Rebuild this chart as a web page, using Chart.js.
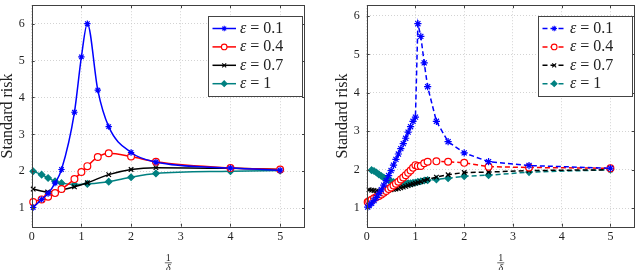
<!DOCTYPE html>
<html>
<head>
<meta charset="utf-8">
<script src="https://cdn.jsdelivr.net/npm/chart.js@4"></script>
<style>
  html, body { margin: 0; padding: 0; background: #fff; }
  #wrap { display: flex; width: 640px; height: 270px; }
  canvas { display: block; }
</style>
</head>
<body>
<div id="wrap">
  <canvas id="left" width="320" height="270"></canvas>
  <canvas id="right" width="320" height="270"></canvas>
</div>
<script>
// tick labels
const xTicks = [0, 1, 2, 3, 4, 5];
const yTicks = [1, 2, 3, 4, 5, 6];
const epsLabels = ['0.1', '0.4', '0.7', '1'];

// left panel (solid, smooth)
const leftX = [0.03, 0.2, 0.33, 0.47, 0.6, 0.86, 1.0, 1.12, 1.33, 1.55, 2, 2.5, 4, 5];
const leftBlue = [1.02, 1.24, 1.40, 1.68, 2.05, 3.6, 5.1, 6.0, 4.2, 3.21, 2.51, 2.25, 2.09, 2.03];
const leftRed = [1.17, 1.24, 1.31, 1.41, 1.52, 1.79, 1.98, 2.14, 2.39, 2.49, 2.40, 2.26, 2.09, 2.05];
const leftBlackX = [0.03, 0.32, 0.61, 0.86, 1.12, 1.55, 2.0, 2.5, 4, 5];
const leftBlack = [1.52, 1.44, 1.50, 1.58, 1.69, 1.91, 2.05, 2.10, 2.08, 2.05];
const leftTealX = [0.03, 0.2, 0.33, 0.47, 0.6, 0.86, 1.12, 1.55, 2.0, 2.5, 4, 5];
const leftTeal = [2.0, 1.91, 1.82, 1.73, 1.68, 1.64, 1.66, 1.72, 1.84, 1.94, 2.0, 2.02];

// right panel (dashed)
const rightX = [0.02, 0.05, 0.1, 0.15, 0.2, 0.25, 0.3, 0.35, 0.4, 0.45, 0.5, 0.55, 0.6, 0.65, 0.7,
                0.75, 0.8, 0.85, 0.9, 0.95, 1.0, 1.05, 1.11, 1.18, 1.25, 1.43, 1.67, 2, 2.5, 3.33, 5];
const rightBlue = [1.03, 1.07, 1.13, 1.2, 1.28, 1.38, 1.48, 1.6, 1.72, 1.85, 1.98, 2.12, 2.27, 2.41, 2.55,
                   2.68, 2.82, 2.98, 3.12, 3.26, 3.37, 5.8, 5.47, 4.78, 4.16, 3.26, 2.73, 2.44, 2.21, 2.11, 2.04];
const rightRed = [1.16, 1.18, 1.22, 1.26, 1.29, 1.32, 1.36, 1.4, 1.45, 1.5, 1.54, 1.59, 1.64, 1.69, 1.75,
                  1.8, 1.86, 1.92, 1.98, 2.05, 2.12, 2.1, 2.1, 2.17, 2.21, 2.22, 2.21, 2.18, 2.08, 2.06, 2.04];
const rightBlackX = rightX.slice(1);
const rightBlack = [1.48, 1.47, 1.46, 1.45, 1.44, 1.44, 1.45, 1.46, 1.47, 1.48, 1.49, 1.5, 1.51, 1.53,
                    1.55, 1.57, 1.59, 1.61, 1.63, 1.65, 1.67, 1.69, 1.72, 1.75, 1.81, 1.87, 1.93, 1.94, 1.98, 2.0];
const rightTealX = rightX.slice(2);
const rightTeal = [1.99, 1.97, 1.93, 1.88, 1.84, 1.8, 1.76, 1.73, 1.7, 1.68, 1.66, 1.65, 1.64, 1.64,
                   1.64, 1.65, 1.65, 1.66, 1.67, 1.69, 1.7, 1.72, 1.73, 1.75, 1.78, 1.83, 1.86, 1.94, 2.0];

const SERIF = '"Liberation Serif", serif';
const TEAL = '#008080';

function makeSet(label, xs, ys, color, style, fill, radius, dashed) {
    return {
        label: label,
        data: xs.map((x, i) => ({ x: x, y: ys[i] })),
        borderColor: color,
        backgroundColor: color,
        borderWidth: 1.5,
        borderDash: dashed ? [5, 3] : [],
        pointStyle: style,
        pointRadius: radius,
        pointBorderColor: color,
        pointBackgroundColor: fill,
        pointBorderWidth: 1.2,
        cubicInterpolationMode: dashed ? 'default' : 'monotone',
        tension: 0,
        clip: false
    };
}

// frame, inward ticks, legend and the 1/delta label
const decor = {
    id: 'decor',
    afterDraw(chart) {
        const ctx = chart.ctx;
        const a = chart.chartArea;
        const xs = chart.scales.x, ys = chart.scales.y;
        ctx.save();
        ctx.strokeStyle = '#404040';
        ctx.lineWidth = 1;
        ctx.setLineDash([]);
        ctx.beginPath();
        xTicks.forEach(v => {
            const px = Math.round(xs.getPixelForValue(v)) + 0.5;
            ctx.moveTo(px, a.bottom); ctx.lineTo(px, a.bottom - 3);
            ctx.moveTo(px, a.top); ctx.lineTo(px, a.top + 3);
        });
        yTicks.forEach(v => {
            const py = Math.round(ys.getPixelForValue(v)) + 0.5;
            ctx.moveTo(a.left, py); ctx.lineTo(a.left + 3, py);
            ctx.moveTo(a.right, py); ctx.lineTo(a.right - 3, py);
        });
        ctx.stroke();
        ctx.strokeRect(Math.round(a.left) + 0.5, Math.round(a.top) + 0.5,
                       Math.round(a.right - a.left) - 1, Math.round(a.bottom - a.top));

        // legend
        const w = 94, h = 80;
        const x0 = Math.round(a.right - 3 - w), y0 = Math.round(a.top + 11);
        ctx.fillStyle = '#fff';
        ctx.fillRect(x0, y0, w, h);
        ctx.strokeStyle = '#444';
        ctx.strokeRect(x0 + 0.5, y0 + 0.5, w, h);
        chart.data.datasets.forEach((d, i) => {
            const y = y0 + 12.5 + i * 18.4;
            ctx.strokeStyle = d.borderColor;
            ctx.lineWidth = d.borderWidth;
            ctx.setLineDash(d.borderDash);
            ctx.beginPath();
            ctx.moveTo(x0 + 4.5, y); ctx.lineTo(x0 + 28, y);
            ctx.stroke();
            ctx.setLineDash([]);
            ctx.fillStyle = d.pointBackgroundColor;
            ctx.strokeStyle = d.pointBorderColor;
            ctx.lineWidth = 1.1;
            Chart.helpers.drawPoint(ctx, { pointStyle: d.pointStyle, radius: 2.8, rotation: 0, borderWidth: 1.1 }, x0 + 16.2, y);
            ctx.fillStyle = '#222';
            ctx.textBaseline = 'middle';
            ctx.textAlign = 'left';
            ctx.font = 'italic 16px ' + SERIF;
            ctx.fillText('ε', x0 + 32, y);
            const ew = ctx.measureText('ε').width;
            ctx.font = '16px ' + SERIF;
            ctx.fillText(' = ' + epsLabels[i], x0 + 32 + ew, y);
        });

        // x label as a fraction
        const cx = (a.left + a.right) / 2;
        ctx.fillStyle = '#222';
        ctx.textAlign = 'center';
        ctx.textBaseline = 'alphabetic';
        ctx.font = '10px ' + SERIF;
        ctx.fillText('1', cx, 261);
        ctx.strokeStyle = '#222';
        ctx.lineWidth = 0.7;
        ctx.beginPath();
        ctx.moveTo(cx - 3.5, 262.8); ctx.lineTo(cx + 3.5, 262.8);
        ctx.stroke();
        ctx.font = 'italic 10px ' + SERIF;
        ctx.fillText('δ', cx, 270.5);
        ctx.restore();
    }
};

function makeChart(id, datasets, yMin, yMax, yWidth, titlePad, padRight) {
    return new Chart(document.getElementById(id), {
        type: 'line',
        data: { datasets: datasets },
        options: {
            responsive: false,
            animation: false,
            events: [],
            layout: { padding: { left: 0, right: padRight, top: 1, bottom: 0 } },
            plugins: { legend: { display: false }, tooltip: { enabled: false } },
            scales: {
                x: {
                    type: 'linear', min: 0, max: 5.5,
                    afterBuildTicks: s => { s.ticks = xTicks.map(v => ({ value: v })); },
                    afterFit: s => { s.height = 43.3; s.paddingLeft = 0; s.paddingRight = 0; },
                    grid: { color: '#c8c8c8', lineWidth: 0.8, drawTicks: false },
                    border: { display: false, dash: [1, 2] },
                    ticks: { padding: 3, color: '#222', font: { family: SERIF, size: 12 } }
                },
                y: {
                    type: 'linear', min: yMin, max: yMax,
                    afterBuildTicks: s => { s.ticks = yTicks.map(v => ({ value: v })); },
                    afterFit: s => { s.width = yWidth; s.paddingTop = 0; s.paddingBottom = 0; },
                    grid: { color: '#c8c8c8', lineWidth: 0.8, drawTicks: false },
                    border: { display: false, dash: [1, 2] },
                    ticks: { padding: 7, color: '#222', font: { family: SERIF, size: 12 } },
                    title: {
                        display: true, text: 'Standard risk', color: '#222',
                        font: { family: SERIF, size: 16, lineHeight: 1 },
                        padding: { top: titlePad, bottom: 0 }
                    }
                }
            }
        },
        plugins: [decor]
    });
}

makeChart('left', [
    makeSet('0.1', leftX, leftBlue, '#0000ff', 'star', '#0000ff', 3.2, false),
    makeSet('0.4', leftX, leftRed, '#ff0000', 'circle', '#ffffff', 3.4, false),
    makeSet('0.7', leftBlackX, leftBlack, '#000000', 'crossRot', '#000000', 3.2, false),
    makeSet('1', leftTealX, leftTeal, TEAL, 'rectRot', TEAL, 3.2, false)
], 0.5, 6.5, 31.7, 0, 15);

makeChart('right', [
    makeSet('0.1', rightX, rightBlue, '#0000ff', 'star', '#0000ff', 3.6, true),
    makeSet('0.4', rightX, rightRed, '#ff0000', 'circle', '#ffffff', 3.4, true),
    makeSet('0.7', rightBlackX, rightBlack, '#000000', 'crossRot', '#000000', 3.2, true),
    makeSet('1', rightTealX, rightTeal, TEAL, 'rectRot', TEAL, 3.2, true)
], 0.52, 6.28, 46.7, 14.5, 1);
</script>
</body>
</html>
